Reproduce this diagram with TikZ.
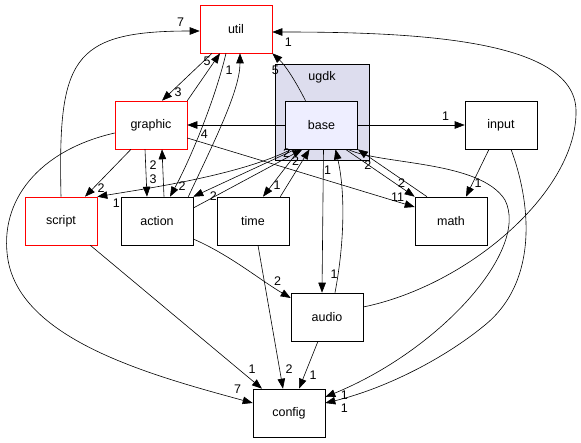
\documentclass[tikz,border=0pt]{standalone}
\usepackage{fontspec}
\setmainfont{Liberation Sans}
\usepackage{tikz}
\usetikzlibrary{arrows.meta}

\definecolor{clusterfill}{HTML}{DDDDEE}
\definecolor{currentfill}{HTML}{EEEEFF}

\tikzset{
  dirbox/.style={draw, line width=0.6pt, minimum width=72pt, minimum height=48pt,
    inner sep=0pt, font=\fontsize{12.5}{14}\selectfont},
  truncbox/.style={dirbox, draw=red},
  dep/.style={-{Triangle[length=10pt,width=7.5pt]}, line width=0.6pt},
  cnt/.style={font=\fontsize{12.5}{14}\selectfont, inner sep=0pt},
}

\begin{document}
\begin{tikzpicture}[x=1pt, y=-1pt]
\useasboundingbox (0,0) rectangle (581,443);
\draw[fill=clusterfill, line width=0.6pt] (275,64) rectangle (369,160);
\node[cnt] (ugdk) at (322,77) {ugdk};
\node[truncbox] (util) at (236,29) {util};
\node[dirbox, fill=currentfill] (base) at (321.5,125) {base};
\node[dirbox] (input) at (501,125) {input};
\node[truncbox] (graphic) at (151,125) {graphic};
\node[truncbox] (script) at (61,221) {script};
\node[dirbox] (action) at (157,221) {action};
\node[dirbox] (time) at (253,221) {time};
\node[dirbox] (math) at (451,221) {math};
\node[dirbox] (audio) at (327,317) {audio};
\node[dirbox] (config) at (289,413) {config};
\draw[dep] (script.north) .. controls (58,60) and (70,31) .. ([yshift=-2pt]util.west)
  node[cnt, pos=1, xshift=-19pt, yshift=9pt] {7};
\draw[dep] (graphic.north east) -- ([xshift=-16pt]util.south)
  node[cnt, pos=1, xshift=-13pt, yshift=-8pt] {5};
\draw[dep] ([xshift=-24pt]util.south) -- ([xshift=11pt]graphic.north)
  node[cnt, pos=1, xshift=16pt, yshift=8pt] {3};
\draw[dep] ([xshift=-5pt]action.north east) .. controls (215,140) and (240,90) .. ([xshift=4pt]util.south)
  node[cnt, pos=1, xshift=-11pt, yshift=-17pt] {1};
\draw[dep] ([xshift=-10pt]util.south) .. controls (215,100) and (190,160) .. ([xshift=13pt]action.north)
  node[cnt, pos=1, xshift=12pt, yshift=11pt] {2};
\draw[dep] ([xshift=-16pt]base.north) .. controls (295,80) and (285,65) .. (util.south east)
  node[cnt, pos=1, xshift=3pt, yshift=-17pt] {5};
\draw[dep] ([yshift=10pt]audio.east) .. controls (470,285) and (578,190) .. (576,110)
  .. controls (574,40) and (420,32) .. ([yshift=-3pt]util.east)
  node[cnt, pos=1, xshift=16pt, yshift=-10pt] {1};
\draw[dep] (base.west) -- (graphic.east)
  node[cnt, pos=1, xshift=17pt, yshift=-9pt] {4};
\draw[dep] (base.east) -- (input.west)
  node[cnt, pos=1, xshift=-19pt, yshift=9pt] {1};
\draw[dep] ([xshift=-20pt]graphic.south) -- ([xshift=24pt]script.north)
  node[cnt, pos=1, xshift=16pt, yshift=9pt] {2};
\draw[dep] ([xshift=-6pt]graphic.south) -- ([xshift=-10pt]action.north)
  node[cnt, pos=1, xshift=6pt, yshift=18pt] {3};
\draw[dep] ([xshift=7pt]action.north) -- ([xshift=11pt]graphic.south)
  node[cnt, pos=1, xshift=-9pt, yshift=-16pt] {2};
\draw[dep] ([yshift=-13pt]graphic.east) -- ([yshift=14pt]math.west)
  node[cnt, pos=1, xshift=-17pt, yshift=10pt] {11};
\draw[dep] ([yshift=-8pt]graphic.west) .. controls (40,150) and (-2,200) .. (8,260)
  .. controls (22,340) and (150,375) .. ([yshift=10pt]config.west)
  node[cnt, pos=1, xshift=-15pt, yshift=14pt] {7};
\draw[dep] ([xshift=-30pt]base.south) .. controls (240,175) and (150,188) .. (script.north east)
  node[cnt, pos=1, xshift=19pt, yshift=-7pt] {1};
\draw[dep] ([xshift=-26pt]base.south) -- (action.north east)
  node[cnt, pos=1, xshift=20pt, yshift=1pt] {2};
\draw[dep] ([yshift=13pt]action.east) -- ([xshift=-19pt]base.south)
  node[cnt, pos=1, xshift=-16pt, yshift=-4pt] {2};
\draw[dep] ([xshift=-22pt]base.south) -- ([xshift=10pt]time.north)
  node[cnt, pos=1, xshift=14pt, yshift=11pt] {1};
\draw[dep] ([xshift=-9pt]time.north east) -- ([xshift=-12pt]base.south)
  node[cnt, pos=1, xshift=-14pt, yshift=-12pt] {2};
\draw[dep] ([xshift=24pt]base.south) -- (math.north west)
  node[cnt, pos=1, xshift=-13pt, yshift=14pt] {2};
\draw[dep] ([xshift=-24pt]math.north) -- (base.south east)
  node[cnt, pos=1, xshift=10pt, yshift=-16pt] {2};
\draw[dep] ([xshift=2pt]base.south) -- ([xshift=-5pt]audio.north)
  node[cnt, pos=1, xshift=12pt, yshift=18pt] {1};
\draw[dep] ([xshift=8pt]audio.north) .. controls (345,240) and (345,190) .. ([xshift=14pt]base.south)
  node[cnt, pos=1, xshift=-8pt, yshift=-21pt] {1};
\draw[dep] ([xshift=-10pt]base.south east) .. controls (380,165) and (480,160) .. (505,200)
  .. controls (530,250) and (440,350) .. ([yshift=16pt]config.east)
  node[cnt, pos=1, xshift=19pt, yshift=2pt] {1};
\draw[dep] ([xshift=-12pt]input.south) -- ([xshift=15pt]math.north)
  node[cnt, pos=1, xshift=12pt, yshift=13pt] {1};
\draw[dep] ([xshift=10pt]input.south) .. controls (530,200) and (540,280) .. (485,325)
  .. controls (440,362) and (380,390) .. ([yshift=10pt]config.east)
  node[cnt, pos=1, xshift=19pt, yshift=-5pt] {1};
\draw[dep] ([yshift=-18pt]action.east) .. controls (230,255) and (260,280) .. ([yshift=19pt]audio.west)
  node[cnt, pos=1, xshift=-13pt, yshift=17pt] {2};
\draw[dep] ([xshift=-7pt]script.south east) -- ([xshift=-27pt]config.north)
  node[cnt, pos=1, xshift=-10pt, yshift=19pt] {1};
\draw[dep] ([xshift=5pt]time.south) -- ([xshift=-6pt]config.north)
  node[cnt, pos=1, xshift=6pt, yshift=20pt] {2};
\draw[dep] ([xshift=-9pt]audio.south) -- ([xshift=10pt]config.north)
  node[cnt, pos=1, xshift=14pt, yshift=13pt] {1};
\end{tikzpicture}
\end{document}
